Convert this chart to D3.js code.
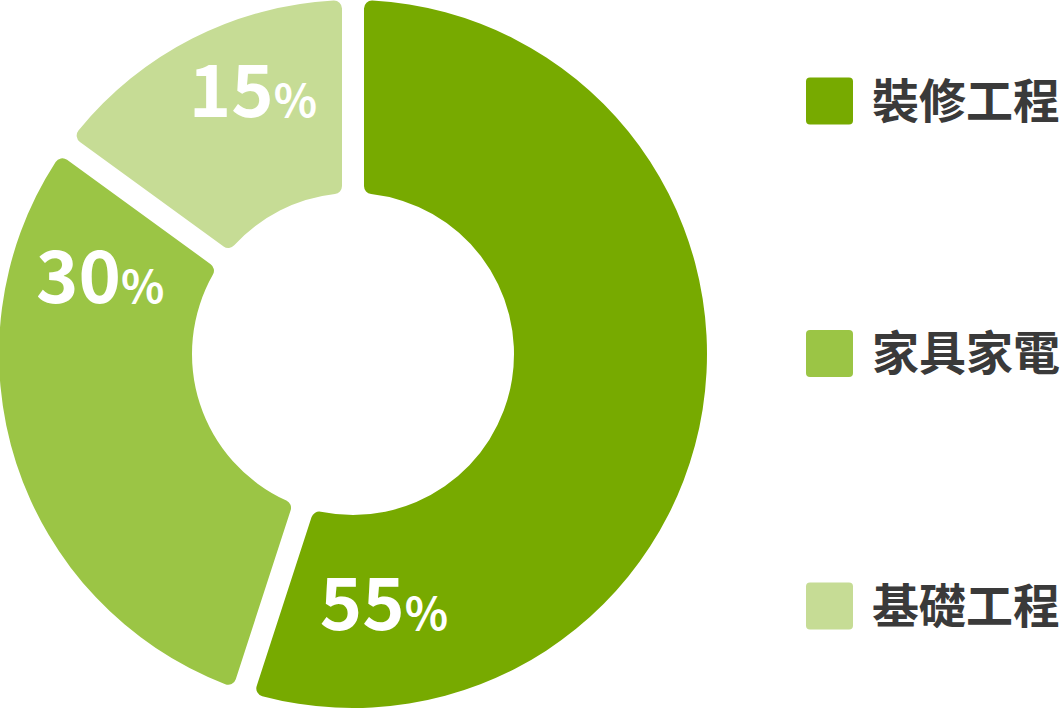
<!DOCTYPE html>
<html>
<head>
<meta charset="utf-8">
<script src="https://cdn.jsdelivr.net/npm/d3@7"></script>
<style>
  body { margin: 0; background: #fff; }
  svg { display: block; }
</style>
</head>
<body>
<script>
// Chart data
const categories = ["裝修工程", "家具家電", "基礎工程"];
const shares = [55, 30, 15];
const colors = ["#77aa00", "#9bc545", "#c6dc95"];

// label placement (degrees clockwise from top, radius) - layout only
const labelAngle = [173.6, 281.4, 337.1];
const labelRadius = [278, 258, 257];
const labelSize = 72;

const W = 1062, H = 708;
const cx = 353, cy = 354;
const outer = 354, inner = 161;

const svg = d3.select("body").append("svg")
    .attr("width", W)
    .attr("height", H);

const g = svg.append("g")
    .attr("transform", "translate(" + cx + "," + cy + ")");

const data = categories.map((c, i) => ({ name: c, value: shares[i], color: colors[i], idx: i }));

const pie = d3.pie()
    .sort(null)
    .value(d => d.value);

const arc = d3.arc()
    .innerRadius(inner)
    .outerRadius(outer)
    .padAngle(22 / Math.sqrt(inner * inner + outer * outer))
    .cornerRadius(8);

g.selectAll("path")
    .data(pie(data))
    .enter().append("path")
    .attr("d", arc)
    .attr("fill", d => d.data.color);

// percentage labels
const labels = g.selectAll(".pct")
    .data(pie(data))
    .enter().append("text")
    .attr("class", "pct")
    .attr("x", d => labelRadius[d.data.idx] * Math.sin(labelAngle[d.data.idx] * Math.PI / 180))
    .attr("y", d => -labelRadius[d.data.idx] * Math.cos(labelAngle[d.data.idx] * Math.PI / 180))
    .attr("text-anchor", "middle")
    .style("font-family", "'Noto Sans CJK TC', 'Noto Sans', sans-serif")
    .style("font-weight", "700")
    .style("fill", "#fff");

labels.append("tspan")
    .style("font-size", labelSize + "px")
    .text(d => d.data.value);

labels.append("tspan")
    .style("font-size", Math.round(labelSize * 0.62) + "px")
    .text("%");

// legend
const legendY = d3.scalePoint()
    .domain(categories)
    .range([101, 606]);

const legend = svg.append("g")
    .selectAll("g")
    .data(data)
    .enter().append("g")
    .attr("transform", d => "translate(806," + legendY(d.name) + ")");

legend.append("rect")
    .attr("x", 0)
    .attr("y", -23.5)
    .attr("width", 47)
    .attr("height", 47)
    .attr("rx", 4)
    .attr("fill", d => d.color);

legend.append("text")
    .attr("x", 66)
    .attr("y", 0)
    .attr("dy", "0.36em")
    .style("font-family", "'Noto Sans CJK TC', sans-serif")
    .style("font-weight", "700")
    .style("font-size", "47px")
    .style("fill", "#3a3a3a")
    .text(d => d.name);
</script>
</body>
</html>
